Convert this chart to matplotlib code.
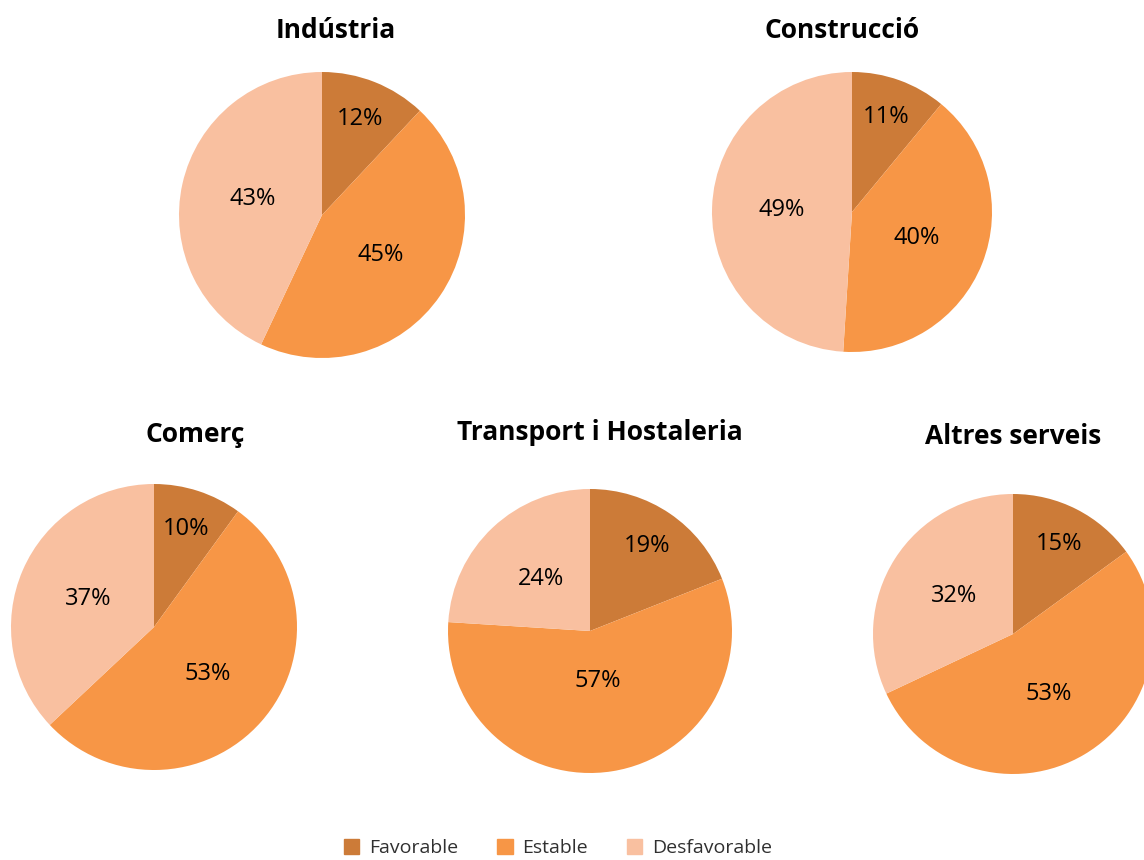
import math

import matplotlib

matplotlib.use("Agg")
import matplotlib.pyplot as plt

plt.rcParams["font.family"] = ["Open Sans", "DejaVu Sans"]

SECTORS = ["Indústria", "Construcció", "Comerç", "Transport i Hostaleria", "Altres serveis"]
CATEGORIES = ["Favorable", "Estable", "Desfavorable"]
FAVORABLE = [12, 11, 10, 19, 15]
ESTABLE = [45, 40, 53, 57, 53]
DESFAVORABLE = [43, 49, 37, 24, 32]

COLORS = ["#CC7B38", "#F79646", "#F9C0A0"]

W, H = 1144, 860
# pie centre (px), radius (px), title position (px)
LAYOUT = [
    ((322, 215), 143, (336, 30)),
    ((852, 212), 140, (842, 30)),
    ((154, 627), 143, (195, 435)),
    ((590, 631), 142, (600, 433)),
    ((1013, 634), 140, (1013, 437)),
]


def label_dist(v):
    # rough imitation of Excel's "best fit" label placement
    if v < 20:
        return 0.72
    if v > 55:
        return 0.36
    return 0.5


fig = plt.figure(figsize=(W / 100, H / 100), dpi=100)

for i, sector in enumerate(SECTORS):
    (cx, cy), r, (tx, ty) = LAYOUT[i]
    ax = fig.add_axes([(cx - r) / W, 1 - (cy + r) / H, 2 * r / W, 2 * r / H])
    vals = [FAVORABLE[i], ESTABLE[i], DESFAVORABLE[i]]
    ax.pie(vals, colors=COLORS, startangle=90, counterclock=False,
           radius=1, wedgeprops=dict(linewidth=0))
    total = sum(vals)
    angle = 90
    for v in vals:
        mid = angle - v / total * 180
        angle -= v / total * 360
        d = label_dist(v)
        x = d * math.cos(math.radians(mid))
        y = d * math.sin(math.radians(mid))
        ax.text(x, y, f"{v}%", ha="center", va="center", fontsize=17, color="black")
    ax.set_xlim(-1, 1)
    ax.set_ylim(-1, 1)
    ax.set_aspect("equal")
    ax.axis("off")
    fig.text(tx / W, 1 - ty / H, sector, ha="center", va="center",
             fontsize=19, fontweight="bold")

handles = [plt.Rectangle((0, 0), 1, 1, color=c) for c in COLORS]
leg = fig.legend(handles, CATEGORIES, loc="center", bbox_to_anchor=(558 / W, 1 - 848 / H),
                 ncol=3, frameon=False, fontsize=14, handlelength=0.8, handleheight=0.8,
                 columnspacing=2.0, handletextpad=0.5)
for t in leg.get_texts():
    t.set_color("#303030")

fig.savefig("out.png", dpi=100)
